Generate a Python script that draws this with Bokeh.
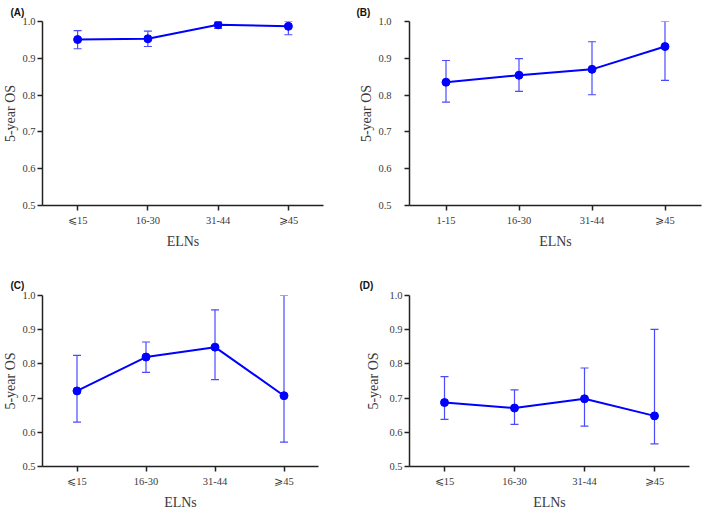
from bokeh.plotting import figure
from bokeh.models import (ColumnDataSource, Whisker, TeeHead, Range1d, FactorRange,
                          FixedTicker, NumeralTickFormatter)
from bokeh.layouts import column, row
from bokeh.embed import file_html
from bokeh.resources import INLINE

# ---- data ----
cats_a = ["⩽15", "16-30", "31-44", "⩾45"]
os_a = [0.951, 0.953, 0.991, 0.987]
lo_a = [0.926, 0.932, 0.981, 0.964]
hi_a = [0.975, 0.974, 1.0, 1.0]

cats_b = ["1-15", "16-30", "31-44", "⩾45"]
os_b = [0.835, 0.854, 0.870, 0.932]
lo_b = [0.781, 0.810, 0.801, 0.840]
hi_b = [0.894, 0.899, 0.945, 1.0]

cats_c = ["⩽15", "16-30", "31-44", "⩾45"]
os_c = [0.721, 0.820, 0.849, 0.707]
lo_c = [0.630, 0.775, 0.754, 0.571]
hi_c = [0.825, 0.864, 0.958, 1.0]

cats_d = ["⩽15", "16-30", "31-44", "⩾45"]
os_d = [0.687, 0.671, 0.698, 0.648]
lo_d = [0.638, 0.623, 0.618, 0.566]
hi_d = [0.763, 0.724, 0.788, 0.901]

y_ticks = [0.5, 0.6, 0.7, 0.8, 0.9, 1.0]
panel_tags = ["(A)", "(B)", "(C)", "(D)"]
x_title = "ELNs"
y_title = "5-year OS"

LINE = "#0000ff"
ERR = "#4a4aff"
TXT = "#3a3a3a"
AX = "#222222"


def make_panel(cats, os_, lo, hi, tag, fw, fh, bl, br, bt, bb,
               t_off, t_stand, y_lab_stand, y_ax_stand):
    src = ColumnDataSource(dict(x=cats, os=os_, lo=lo, hi=hi))
    p = figure(x_range=FactorRange(*cats), y_range=Range1d(0.5, 1.0),
               frame_width=fw, frame_height=fh, output_backend="svg",
               toolbar_location=None,
               min_border_left=bl, min_border_right=br, min_border_top=bt,
               min_border_bottom=bb)
    p.outline_line_color = None
    p.xgrid.grid_line_color = None
    p.ygrid.grid_line_color = None
    p.background_fill_color = "white"
    p.border_fill_color = "white"

    p.title.text = tag
    p.title.align = "left"
    p.title.offset = t_off
    p.title.standoff = t_stand
    p.title.text_font = "Liberation Sans"
    p.title.text_font_style = "bold"
    p.title.text_font_size = "10px"
    p.title.text_color = "#111111"

    wk = Whisker(base="x", lower="lo", upper="hi", source=src,
                 line_color=ERR, line_width=1.2,
                 upper_head=TeeHead(size=8, line_color=ERR, line_width=1.2),
                 lower_head=TeeHead(size=8, line_color=ERR, line_width=1.2))
    p.add_layout(wk)
    p.line(x="x", y="os", source=src, line_color=LINE, line_width=2)
    p.scatter(x="x", y="os", source=src, size=8, fill_color=LINE, line_color=LINE)

    for ax in (p.xaxis[0], p.yaxis[0]):
        ax.axis_line_color = AX
        ax.axis_line_width = 1.5
        ax.major_tick_line_color = AX
        ax.major_tick_line_width = 1.5
        ax.major_tick_out = 5
        ax.major_tick_in = 0
        ax.minor_tick_line_color = None
        ax.major_label_text_font = "Liberation Serif"
        ax.major_label_text_font_size = "10.5px"
        ax.major_label_text_color = TXT
        ax.axis_label_text_font = "Liberation Serif"
        ax.axis_label_text_font_size = "14px"
        ax.axis_label_text_font_style = "normal"
        ax.axis_label_text_color = TXT
    p.xaxis.axis_label = x_title
    p.yaxis.axis_label = y_title
    p.xaxis.major_label_standoff = 4
    p.xaxis.axis_label_standoff = 5
    p.yaxis.major_label_standoff = y_lab_stand
    p.yaxis.axis_label_standoff = y_ax_stand
    p.yaxis.ticker = FixedTicker(ticks=y_ticks)
    p.yaxis.formatter = NumeralTickFormatter(format="0.0")
    return p


pa = make_panel(cats_a, os_a, lo_a, hi_a, panel_tags[0], 281, 184, 32, 33, 20, 42, -32, 8, 2, 1)
pb = make_panel(cats_b, os_b, lo_b, hi_b, panel_tags[1], 292, 184, 53, 2, 20, 42, -53, 8, 13, 1)
pc = make_panel(cats_c, os_c, lo_c, hi_c, panel_tags[2], 276, 171, 32, 38, 44, 42, -32, 9, 2, 1)
pd = make_panel(cats_d, os_d, lo_d, hi_d, panel_tags[3], 280, 171, 53, 14, 44, 42, -50, 9, 2, 5)

layout = column(row(pa, pb), row(pc, pd))
open("out.html", "w").write(file_html(layout, INLINE))
